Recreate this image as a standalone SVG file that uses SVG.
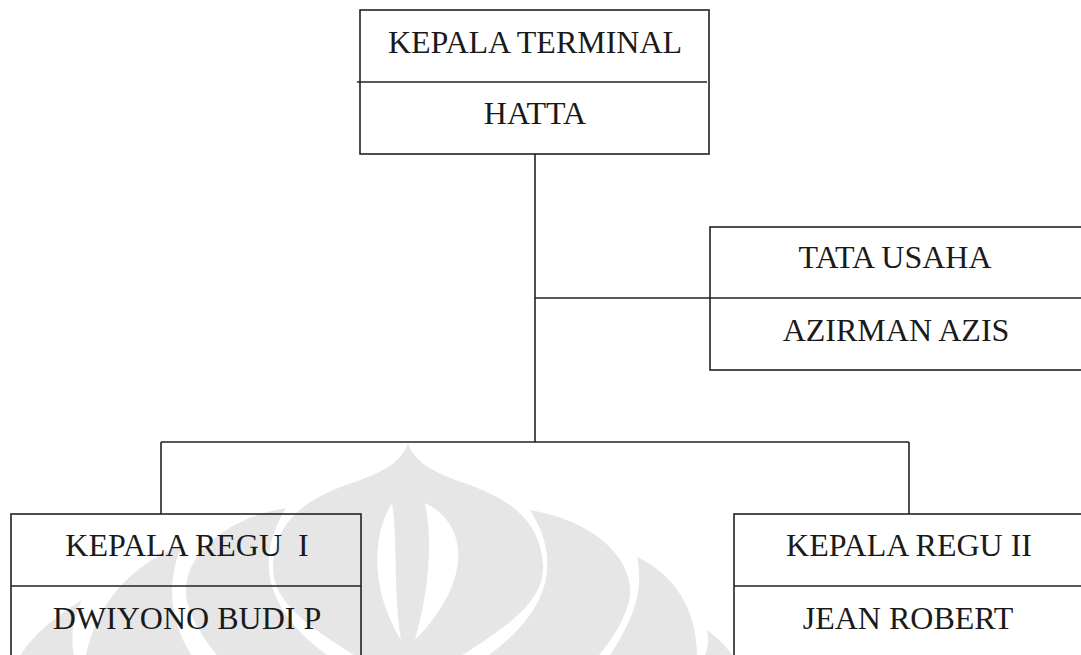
<svg xmlns="http://www.w3.org/2000/svg" width="1081" height="655" viewBox="0 0 1081 655">
<style>
.box{fill:none;stroke:#222;stroke-width:1.6}
.ln{fill:none;stroke:#222;stroke-width:1.6}
.t{font-family:"Liberation Serif","Times New Roman",serif;font-size:32px;fill:#1a1a1a;text-anchor:middle;white-space:pre}
.wm{fill:#e6e6e6}
.wh{fill:#ffffff}
</style>
<rect width="1081" height="655" fill="#ffffff"/>
<g id="watermark">
<path class="wm" d="M530,510 C600,522 640,565 628,605 C620,630 605,648 595,660 L482,660 C540,620 568,570 530,510 Z"/>
<path class="wm" d="M637,557 C675,575 698,610 697,660 L607,660 C630,625 645,595 637,557 Z"/>
<path class="wm" d="M707,630 C720,640 730,650 735,660 L703,660 C708,650 709,640 707,630 Z"/>
<path class="wm" d="M286,508 C216,520 176,565 188,605 C196,630 211,648 221,660 L334,660 C276,620 248,570 286,508 Z"/>
<path class="wm" d="M182,545 C130,565 95,605 85,660 L195,660 C170,625 165,585 182,545 Z"/>
<path class="wm" d="M82,600 C50,620 28,640 18,660 L75,660 C70,640 72,620 82,600 Z"/>
<path class="wm" d="M408,443 C415,465 440,475 470,485 C510,500 540,520 543,565 C545,605 500,630 455,660 L361,660 C316,630 271,605 273,565 C276,520 306,500 346,485 C376,475 401,465 408,443 Z"/>
<path class="wh" d="M392,503 C372,535 370,590 401,640 C393,590 398,540 392,503 Z"/>
<path class="wh" d="M425,503 C470,525 472,582 415,640 C429,590 433,540 425,503 Z"/>
</g>
<g id="connectors">
<line class="ln" x1="535" y1="154" x2="535" y2="442"/>
<line class="ln" x1="535" y1="298" x2="710" y2="298"/>
<line class="ln" x1="161" y1="442" x2="909" y2="442"/>
<line class="ln" x1="161" y1="442" x2="161" y2="514"/>
<line class="ln" x1="909" y1="442" x2="909" y2="514"/>
</g>
<g id="kepala-terminal">
<rect class="box" x="360" y="10" width="349" height="144"/>
<line class="ln" x1="357" y1="82" x2="707" y2="82"/>
<text class="t" x="535" y="53">KEPALA TERMINAL</text>
<text class="t" x="535" y="124">HATTA</text>
</g>
<g id="tata-usaha">
<rect class="box" x="710" y="227" width="376" height="143"/>
<line class="ln" x1="710" y1="298" x2="1086" y2="298"/>
<text class="t" x="895" y="268">TATA USAHA</text>
<text class="t" x="896" y="341">AZIRMAN AZIS</text>
</g>
<g id="kepala-regu-1">
<rect class="box" x="11" y="514" width="350" height="160"/>
<line class="ln" x1="11" y1="586" x2="361" y2="586"/>
<text class="t" x="187" y="556">KEPALA REGU  I</text>
<text class="t" x="187" y="629">DWIYONO BUDI P</text>
</g>
<g id="kepala-regu-2">
<rect class="box" x="734" y="514" width="352" height="160"/>
<line class="ln" x1="734" y1="586" x2="1086" y2="586"/>
<text class="t" x="909" y="556">KEPALA REGU II</text>
<text class="t" x="908" y="629">JEAN ROBERT</text>
</g>
</svg>
